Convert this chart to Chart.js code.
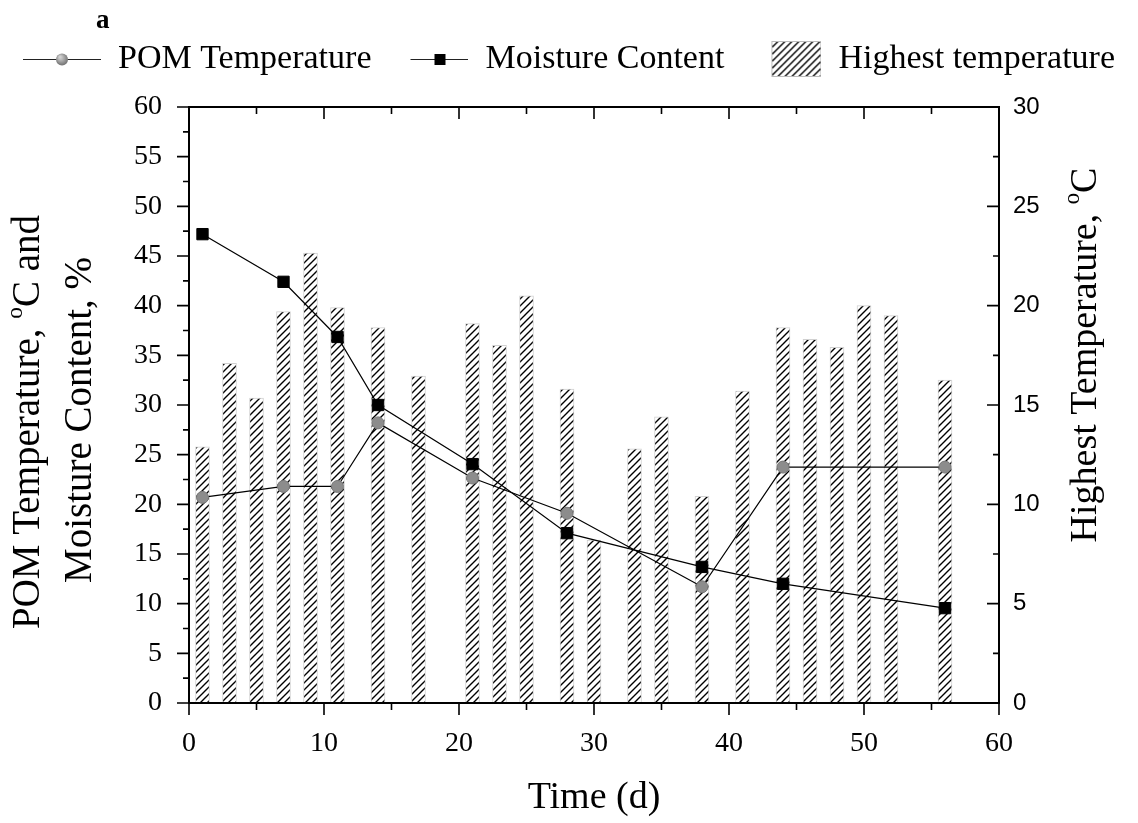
<!DOCTYPE html>
<html lang="en">
<head>
    <meta charset="UTF-8">
    <title>POM Temperature and Moisture Content</title>
    <style>
        body { margin: 0; background: #fff; }
        .chart-container { width: 1138px; height: 823px; }
    </style>
</head>
<body>
    <div class="chart-container">
        <canvas id="myChart" width="1138" height="823"></canvas>
    </div>

    <script src="https://cdn.jsdelivr.net/npm/chart.js"></script>
    <script>
        // sampling days for the two line series
        var days = [1, 7, 11, 14, 21, 28, 38, 44, 56];
        var pomTemp = [20.7, 21.8, 21.8, 28.2, 22.65, 19.1, 11.7, 23.75, 23.75];
        var moisture = [47.2, 42.4, 36.85, 30.0, 24.05, 17.1, 13.7, 12.0, 9.55];

        // highest temperature bars (right axis)
        var barDays = [1, 3, 5, 7, 9, 11, 14, 17, 21, 23, 25, 28, 30, 33, 35, 38, 41, 44, 46, 48, 50, 52, 56];
        var highestTemp = [12.9, 17.1, 15.35, 19.7, 22.65, 19.9, 18.9, 16.45, 19.1, 18.0, 20.5, 15.8, 8.2,
                           12.8, 14.4, 10.4, 15.7, 18.9, 18.3, 17.9, 20.0, 19.5, 16.25];

        var xTicks = [0, 10, 20, 30, 40, 50, 60];
        var yTicks = [0, 5, 10, 15, 20, 25, 30, 35, 40, 45, 50, 55, 60];
        var y2Ticks = [0, 5, 10, 15, 20, 25, 30];

        var serif = "'Liberation Serif', 'Times New Roman', serif";
        var sans = "'Liberation Sans', Arial, sans-serif";

        var canvas = document.getElementById('myChart');
        var ctx = canvas.getContext('2d');

        function makeHatch(size) {
            var c = document.createElement('canvas');
            c.width = size; c.height = size;
            var g = c.getContext('2d');
            g.fillStyle = '#fff';
            g.fillRect(0, 0, size, size);
            g.strokeStyle = '#000';
            g.lineWidth = 1.4;
            g.beginPath();
            g.moveTo(-1, size + 1); g.lineTo(size + 1, -1);
            g.moveTo(-2, 2); g.lineTo(2, -2);
            g.moveTo(size - 2, size + 2); g.lineTo(size + 2, size - 2);
            g.stroke();
            return ctx.createPattern(c, 'repeat');
        }
        var hatch = makeHatch(7);

        // legend icons
        function lineIcon(kind) {
            var c = document.createElement('canvas');
            c.width = 78; c.height = 22;
            var g = c.getContext('2d');
            var x0 = kind === 'circle' ? 0 : 20;
            g.strokeStyle = '#222';
            g.lineWidth = 1;
            g.beginPath();
            g.moveTo(x0, 11.5); g.lineTo(78, 11.5);
            g.stroke();
            var cx = (x0 + 78) / 2;
            if (kind === 'circle') {
                var grd = g.createRadialGradient(cx - 2, 9, 1, cx, 11, 7);
                grd.addColorStop(0, '#d0d0d0');
                grd.addColorStop(1, '#6a6a6a');
                g.fillStyle = grd;
                g.beginPath(); g.arc(cx, 11.5, 6, 0, Math.PI * 2); g.fill();
            } else {
                g.fillStyle = '#000';
                g.fillRect(Math.round(cx) - 5, 6, 11, 11);
            }
            return c;
        }
        function hatchIcon() {
            var c = document.createElement('canvas');
            c.width = 78; c.height = 36;
            var g = c.getContext('2d');
            g.fillStyle = hatch;
            g.fillRect(28, 0, 50, 36);
            g.strokeStyle = '#bbb';
            g.lineWidth = 1;
            g.strokeRect(28.5, 0.5, 49, 35);
            return c;
        }
        var legendIcons = [lineIcon('circle'), lineIcon('rect'), hatchIcon()];

        function drawRich(g, parts, size) {
            var w = 0;
            parts.forEach(function (p) {
                g.font = (p.sup ? size * 0.6 : size) + 'px ' + serif;
                p.w = g.measureText(p.t).width;
                w += p.w;
            });
            var x = -w / 2;
            parts.forEach(function (p) {
                g.font = (p.sup ? size * 0.6 : size) + 'px ' + serif;
                g.fillText(p.t, x, p.sup ? -size * 0.33 : 0);
                x += p.w;
            });
        }

        var frameAndTitles = {
            id: 'frameAndTitles',
            beforeInit: function (chart) {
                var fit = chart.legend.fit;
                chart.legend.fit = function () {
                    fit.call(chart.legend);
                    this.height = 84;
                };
            },
            afterDraw: function (chart) {
                var g = chart.ctx;
                var a = chart.chartArea;
                var sx = chart.scales.x, sy = chart.scales.y, sy2 = chart.scales.y2;
                var v, p, len;
                g.save();
                g.strokeStyle = '#000';
                g.lineWidth = 2;
                g.strokeRect(a.left, a.top, a.right - a.left, a.bottom - a.top);
                g.lineWidth = 1.6;
                g.beginPath();
                for (v = 0; v <= 60; v += 5) {
                    p = sx.getPixelForValue(v);
                    len = v % 10 === 0 ? 12 : 7;
                    g.moveTo(p, a.bottom); g.lineTo(p, a.bottom + len);
                    g.moveTo(p, a.top); g.lineTo(p, a.top + len);
                }
                for (v = 0; v <= 60; v += 2.5) {
                    p = sy.getPixelForValue(v);
                    len = v % 5 === 0 ? 12 : 6;
                    g.moveTo(a.left - len, p); g.lineTo(a.left, p);
                }
                for (v = 0; v <= 30; v += 2.5) {
                    p = sy2.getPixelForValue(v);
                    len = v % 5 === 0 ? 12 : 6;
                    g.moveTo(a.right - len, p); g.lineTo(a.right, p);
                }
                g.stroke();

                g.fillStyle = '#000';
                g.textAlign = 'left';
                g.textBaseline = 'middle';

                // panel letter
                g.font = 'bold 27px ' + serif;
                g.fillText('a', 96, 21);

                // x axis title
                g.save();
                g.translate((a.left + a.right) / 2, 798);
                drawRich(g, [{ t: 'Time (d)' }], 38);
                g.restore();

                // left axis title, two lines
                g.save();
                g.translate(29, 422);
                g.rotate(-Math.PI / 2);
                drawRich(g, [{ t: 'POM Temperature, ' }, { t: 'o', sup: true }, { t: 'C and' }], 39);
                g.restore();
                g.save();
                g.translate(81, 420);
                g.rotate(-Math.PI / 2);
                drawRich(g, [{ t: 'Moisture Content, %' }], 39);
                g.restore();

                // right axis title
                g.save();
                g.translate(1086, 355);
                g.rotate(-Math.PI / 2);
                drawRich(g, [{ t: 'Highest Temperature, ' }, { t: 'o', sup: true }, { t: 'C' }], 38);
                g.restore();

                g.restore();
            }
        };

        var myChart = new Chart(ctx, {
            type: 'bar',
            data: {
                datasets: [
                    {
                        type: 'line',
                        label: 'POM Temperature',
                        data: days.map(function (d, i) { return { x: d, y: pomTemp[i] }; }),
                        yAxisID: 'y',
                        borderColor: '#000',
                        borderWidth: 1.2,
                        pointStyle: 'circle',
                        pointRadius: 6,
                        pointBackgroundColor: '#8c8c8c',
                        pointBorderColor: '#777',
                        pointBorderWidth: 1,
                        order: 2
                    },
                    {
                        type: 'line',
                        label: 'Moisture Content',
                        data: days.map(function (d, i) { return { x: d, y: moisture[i] }; }),
                        yAxisID: 'y',
                        borderColor: '#000',
                        borderWidth: 1.2,
                        pointStyle: 'rect',
                        pointRadius: 8,
                        pointBackgroundColor: '#000',
                        pointBorderColor: '#000',
                        pointBorderWidth: 1,
                        order: 1
                    },
                    {
                        type: 'bar',
                        label: 'Highest temperature',
                        data: barDays.map(function (d, i) { return { x: d, y: highestTemp[i] }; }),
                        yAxisID: 'y2',
                        backgroundColor: hatch,
                        borderColor: 'rgba(0,0,0,0.18)',
                        borderWidth: 1,
                        barThickness: 14,
                        order: 3
                    }
                ]
            },
            options: {
                responsive: false,
                animation: false,
                layout: { padding: { top: 23, left: 0, right: 0, bottom: 0 } },
                plugins: {
                    tooltip: { enabled: false },
                    legend: {
                        position: 'top',
                        labels: {
                            usePointStyle: true,
                            pointStyleWidth: 78,
                            padding: 19,
                            color: '#000',
                            font: { family: serif, size: 34 },
                            generateLabels: function (chart) {
                                return chart.data.datasets.map(function (ds, i) {
                                    return {
                                        text: ds.label,
                                        pointStyle: legendIcons[i],
                                        fillStyle: 'transparent',
                                        strokeStyle: 'transparent',
                                        lineWidth: 0,
                                        hidden: false,
                                        datasetIndex: i
                                    };
                                });
                            }
                        }
                    }
                },
                scales: {
                    x: {
                        type: 'linear',
                        offset: false,
                        min: 0,
                        max: 60,
                        afterFit: function (s) { s.height = 120; },
                        afterBuildTicks: function (s) { s.ticks = xTicks.map(function (v) { return { value: v }; }); },
                        grid: { display: false, drawTicks: false, offset: false },
                        border: { display: false },
                        ticks: { padding: 24, color: '#000', font: { family: serif, size: 28 } }
                    },
                    y: {
                        position: 'left',
                        min: 0,
                        max: 60,
                        afterFit: function (s) { s.width = 189; },
                        afterBuildTicks: function (s) { s.ticks = yTicks.map(function (v) { return { value: v }; }); },
                        grid: { display: false, drawTicks: false },
                        border: { display: false },
                        ticks: { padding: 27, color: '#000', font: { family: serif, size: 28 } }
                    },
                    y2: {
                        position: 'right',
                        min: 0,
                        max: 30,
                        afterFit: function (s) { s.width = 139; },
                        afterBuildTicks: function (s) { s.ticks = y2Ticks.map(function (v) { return { value: v }; }); },
                        grid: { display: false, drawTicks: false },
                        border: { display: false },
                        ticks: { padding: 14, color: '#000', font: { family: sans, size: 24 } }
                    }
                }
            },
            plugins: [frameAndTitles]
        });
    </script>
</body>
</html>
